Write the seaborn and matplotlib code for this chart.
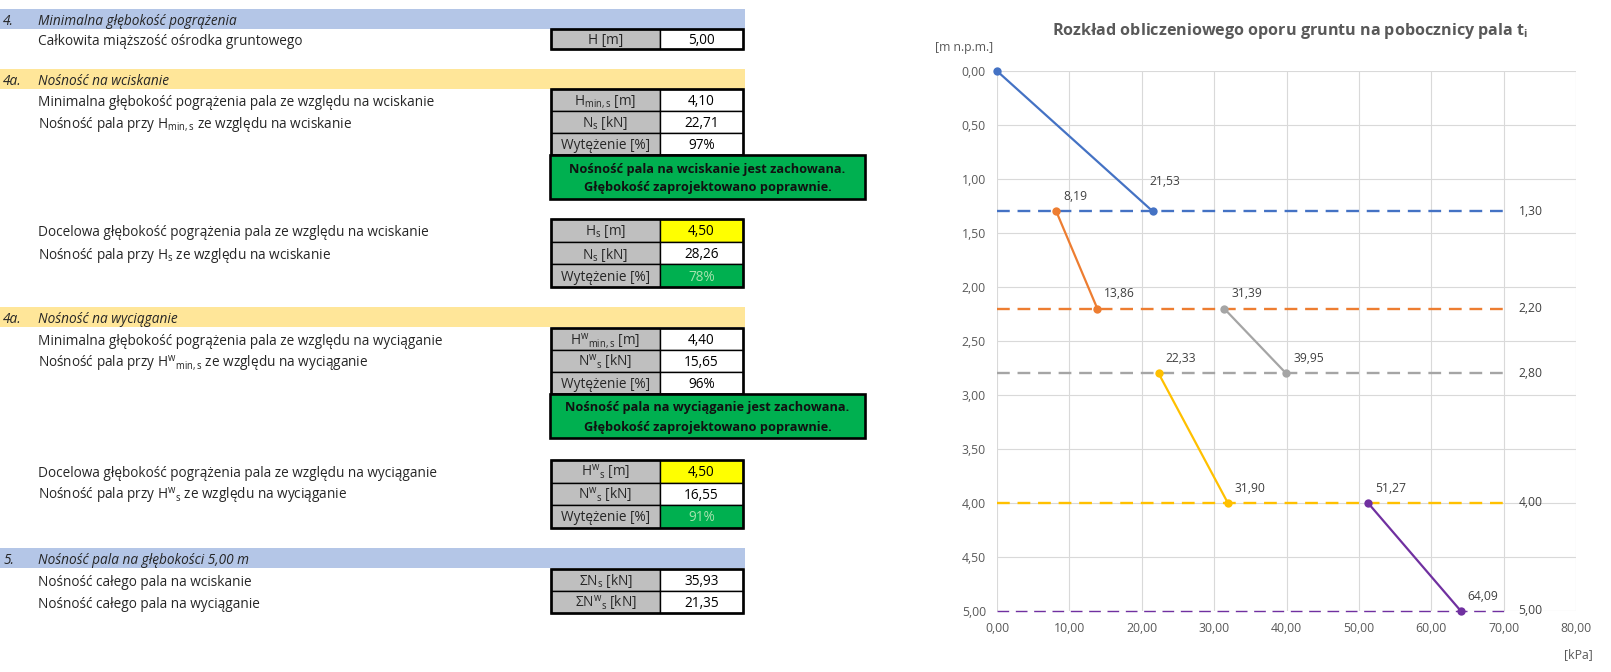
import matplotlib
matplotlib.use("Agg")
import matplotlib.pyplot as plt
from matplotlib.patches import Rectangle
import seaborn as sns
import pandas as pd

# ---------------- chart data ----------------
series_names = ["Warstwa 1", "Warstwa 2", "Warstwa 3", "Warstwa 4", "Warstwa 5"]
series_t = [[0.00, 21.53], [8.19, 13.86], [31.39, 39.95], [22.33, 31.90], [51.27, 64.09]]
series_z = [[0.00, 1.30], [1.30, 2.20], [2.20, 2.80], [2.80, 4.00], [4.00, 5.00]]
layer_bottoms = [1.30, 2.20, 2.80, 4.00, 5.00]
ref_line_t = [0.0, 70.0]
x_ticks = [0, 10, 20, 30, 40, 50, 60, 70, 80]
y_ticks = [0.0, 0.5, 1.0, 1.5, 2.0, 2.5, 3.0, 3.5, 4.0, 4.5, 5.0]
chart_title = "Rozkład obliczeniowego oporu gruntu na pobocznicy pala t$_{\\mathbf{i}}$"
y_unit = "[m n.p.m.]"
x_unit = "[kPa]"

# ---------------- table data ----------------
section_numbers = ["4.", "4a.", "4a.", "5."]
section_titles = ["Minimalna głębokość pogrążenia", "Nośność na wciskanie",
                  "Nośność na wyciąganie", "Nośność pala na głębokości 5,00 m"]
row_descriptions = [
    "Całkowita miąższość ośrodka gruntowego",
    "Minimalna głębokość pogrążenia pala ze względu na wciskanie",
    "Nośność pala przy H$_{\\mathrm{min,s}}$ ze względu na wciskanie",
    "",
    "Docelowa głębokość pogrążenia pala ze względu na wciskanie",
    "Nośność pala przy H$_{\\mathrm{s}}$ ze względu na wciskanie",
    "",
    "Minimalna głębokość pogrążenia pala ze względu na wyciąganie",
    "Nośność pala przy H$^{\\mathrm{w}}{}_{\\mathrm{min,s}}$ ze względu na wyciąganie",
    "",
    "Docelowa głębokość pogrążenia pala ze względu na wyciąganie",
    "Nośność pala przy H$^{\\mathrm{w}}{}_{\\mathrm{s}}$ ze względu na wyciąganie",
    "",
    "Nośność całego pala na wciskanie",
    "Nośność całego pala na wyciąganie",
]
row_symbols = [
    "H [m]",
    "H$_{\\mathrm{min,s}}$ [m]",
    "N$_{\\mathrm{s}}$ [kN]",
    "Wytężenie [%]",
    "H$_{\\mathrm{s}}$ [m]",
    "N$_{\\mathrm{s}}$ [kN]",
    "Wytężenie [%]",
    "H$^{\\mathrm{w}}{}_{\\mathrm{min,s}}$ [m]",
    "N$^{\\mathrm{w}}{}_{\\mathrm{s}}$ [kN]",
    "Wytężenie [%]",
    "H$^{\\mathrm{w}}{}_{\\mathrm{s}}$ [m]",
    "N$^{\\mathrm{w}}{}_{\\mathrm{s}}$ [kN]",
    "Wytężenie [%]",
    "ΣN$_{\\mathrm{s}}$ [kN]",
    "ΣN$^{\\mathrm{w}}{}_{\\mathrm{s}}$ [kN]",
]
row_values = ["5,00", "4,10", "22,71", "97%", "4,50", "28,26", "78%",
              "4,40", "15,65", "96%", "4,50", "16,55", "91%", "35,93", "21,35"]
row_value_kind = ["plain", "plain", "plain", "plain", "input", "plain", "ok",
                  "plain", "plain", "plain", "input", "plain", "ok", "plain", "plain"]
check_messages = [
    ["Nośność pala na wciskanie jest zachowana.", "Głębokość zaprojektowano poprawnie."],
    ["Nośność pala na wyciąganie jest zachowana.", "Głębokość zaprojektowano poprawnie."],
]

# ---------------- style ----------------
sns.set_theme(style="white")
plt.rcParams["font.family"] = ["Open Sans", "DejaVu Sans"]
plt.rcParams["mathtext.fontset"] = "custom"
plt.rcParams["mathtext.rm"] = "Open Sans"
plt.rcParams["mathtext.it"] = "Open Sans:italic"
plt.rcParams["mathtext.bf"] = "Open Sans:bold"

series_colors = ["#4472C4", "#ED7D31", "#A5A5A5", "#FFC000", "#7030A0"]
band_colors = ["#B4C6E7", "#FFE699", "#FFE699", "#B4C6E7"]
value_fill = {"plain": "white", "input": "#FFFF00", "ok": "#00B050"}
value_text = {"plain": "black", "input": "black", "ok": "#A6E3AE"}

W, H = 1611, 672
fig = plt.figure(figsize=(W / 100, H / 100), dpi=100)

# ---------------- table (pixel layout) ----------------
tab = fig.add_axes([0, 0, 1, 1])
tab.set_xlim(0, W)
tab.set_ylim(H, 0)
tab.axis("off")
tab.patch.set_alpha(0)

FS = 9.8
DY = 2.5  # text baseline nudge (px)
band_tops = [9, 69, 307, 548]
band_h = 20
for top, col, num, title in zip(band_tops, band_colors, section_numbers, section_titles):
    tab.add_patch(Rectangle((0, top), 745, band_h, facecolor=col, edgecolor="none"))
    tab.text(3, top + band_h / 2 + DY, num, fontsize=FS, style="italic", va="center", ha="left")
    tab.text(38, top + band_h / 2 + DY, title, fontsize=FS, style="italic", va="center", ha="left")

# groups: (top, row height, row indices)
groups = [(29, 20, [0]), (89, 22, [1, 2, 3]), (219, 22.7, [4, 5, 6]),
          (328, 22, [7, 8, 9]), (460, 22.5, [10, 11, 12]), (569, 22, [13, 14])]
xl0, xl1, xv1 = 551, 660, 743
for top, rh, idxs in groups:
    for k, i in enumerate(idxs):
        y0 = top + k * rh
        yc = y0 + rh / 2
        kind = row_value_kind[i]
        tab.add_patch(Rectangle((xl0, y0), xl1 - xl0, rh, facecolor="#BFBFBF",
                                edgecolor="black", lw=1.0))
        tab.add_patch(Rectangle((xl1, y0), xv1 - xl1, rh, facecolor=value_fill[kind],
                                edgecolor="black", lw=1.0))
        tab.text((xl0 + xl1) / 2, yc + 1.5, row_symbols[i], fontsize=FS, ha="center", va="center")
        tab.text((xl1 + xv1) / 2, yc + 1.5, row_values[i], fontsize=FS, ha="center", va="center",
                 color=value_text[kind])
        if row_descriptions[i]:
            tab.text(38, yc + DY, row_descriptions[i], fontsize=FS, ha="left", va="center")
    tab.add_patch(Rectangle((xl0, top), xv1 - xl0, rh * len(idxs), facecolor="none",
                            edgecolor="black", lw=1.9))

check_boxes = [(155, 44), (394, 44)]
for (top, hh), msg in zip(check_boxes, check_messages):
    tab.add_patch(Rectangle((550, top), 315, hh, facecolor="#00B050", edgecolor="black", lw=1.9))
    tab.text(707.5, top + 14, msg[0], fontsize=9.2, weight="bold", ha="center", va="center",
             color="#111111")
    tab.text(707.5, top + 33, msg[1], fontsize=9.2, weight="bold", ha="center", va="center",
             color="#111111")

# ---------------- chart ----------------
x0px, x1px, y0px, y1px = 997, 1576, 71, 611
ax = fig.add_axes([x0px / W, 1 - y1px / H, (x1px - x0px) / W, (y1px - y0px) / H])

fmt = lambda v: f"{v:.2f}".replace(".", ",")

ref_styles = [dict(lw=1.7, ls=(0, (5.4, 3.3)))] * 4 + [dict(lw=1.0, ls=(0, (8.4, 4.8)))]
for b, col, st in zip(layer_bottoms, series_colors, ref_styles):
    sns.lineplot(x=ref_line_t, y=[b, b], color=col, linewidth=st["lw"], linestyle=st["ls"],
                 ax=ax, zorder=2, clip_on=False)
    ax.annotate(fmt(b), (ref_line_t[-1], b), xytext=(15, 0), textcoords="offset pixels",
                ha="left", va="center", fontsize=8.7, color="#404040")

rows = []
for name, ts, zs in zip(series_names, series_t, series_z):
    for t, z in zip(ts, zs):
        rows.append(dict(series=name, t=t, z=z))
df = pd.DataFrame(rows)
sns.lineplot(data=df, x="t", y="z", hue="series", palette=series_colors, sort=False,
             estimator=None, marker="o", markersize=6, markeredgewidth=0, linewidth=1.6,
             legend=False, ax=ax, zorder=3, clip_on=False)

label_offsets = [[None, (-3, 30)], [(7, 15), (7, 15)], [(7, 15), (7, 15)],
                 [(7, 15), (7, 15)], [(7, 15), (7, 15)]]
for ts, zs, offs in zip(series_t, series_z, label_offsets):
    for t, z, off in zip(ts, zs, offs):
        if off is None:
            continue
        ax.annotate(fmt(t), (t, z), xytext=off, textcoords="offset pixels",
                    ha="left", va="center", fontsize=8.7, color="#404040")

ax.set_xlim(0, 80)
ax.set_ylim(5, 0)
ax.set_xticks(x_ticks)
ax.set_xticklabels([fmt(v) for v in x_ticks])
ax.set_yticks(y_ticks)
ax.set_yticklabels([fmt(v) for v in y_ticks])
ax.tick_params(length=0, labelsize=8.8, labelcolor="#595959", pad=8)
ax.grid(True, color="#D9D9D9", lw=0.8)
for s in ax.spines.values():
    s.set_visible(False)
ax.set_xlabel("")
ax.set_ylabel("")

fig.text(935 / W, 1 - 48 / H, y_unit, fontsize=8.8, color="#595959", ha="left", va="center")
fig.text(1593 / W, 1 - 655 / H, x_unit, fontsize=8.8, color="#595959", ha="right", va="center")
fig.text(1290 / W, 1 - 31 / H, chart_title, fontsize=11.6, weight="bold", color="#595959",
         ha="center", va="center")

fig.savefig("out.png", dpi=100)
